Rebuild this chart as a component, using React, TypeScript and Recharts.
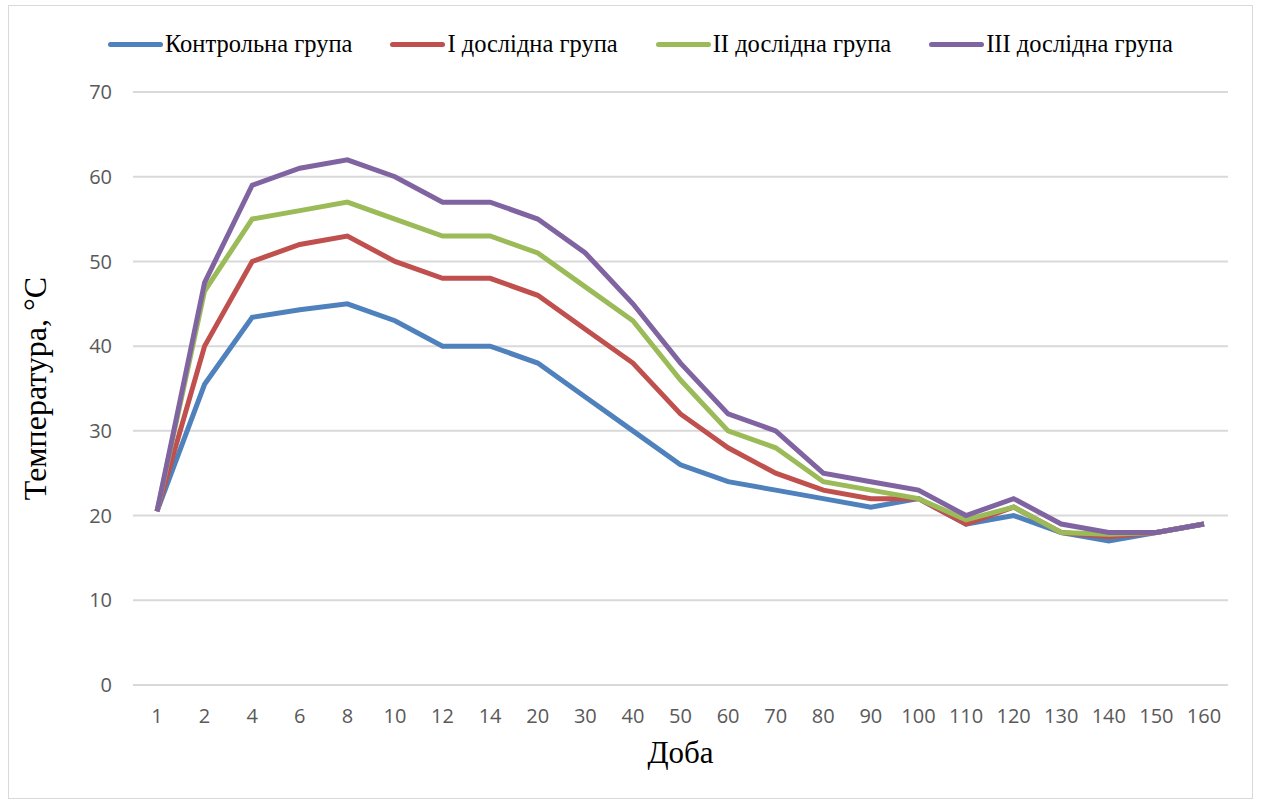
import React from "react";
import { LineChart, Line, XAxis, YAxis, CartesianGrid, Legend } from "recharts";

// Days of observation (categories)
const days = ["1", "2", "4", "6", "8", "10", "12", "14", "20", "30", "40", "50", "60", "70", "80", "90", "100", "110", "120", "130", "140", "150", "160"];

// Temperature per group, °C
const controlGroup = [20.5, 35.5, 43.4, 44.3, 45, 43, 40, 40, 38, 34, 30, 26, 24, 23, 22, 21, 22, 19, 20, 18, 17, 18, 19];
const group1 = [20.5, 40, 50, 52, 53, 50, 48, 48, 46, 42, 38, 32, 28, 25, 23, 22, 22, 19, 21, 18, 17.5, 18, 19];
const group2 = [20.5, 46.5, 55, 56, 57, 55, 53, 53, 51, 47, 43, 36, 30, 28, 24, 23, 22, 19.5, 21, 18, 17.8, 18, 19];
const group3 = [20.5, 47.5, 59, 61, 62, 60, 57, 57, 55, 51, 45, 38, 32, 30, 25, 24, 23, 20, 22, 19, 18, 18, 19];

const yTicks = [0, 10, 20, 30, 40, 50, 60, 70];

const series = [
    { key: "control", name: "Контрольна група", color: "#4F81BD", values: controlGroup },
    { key: "g1", name: "І дослідна група", color: "#C0504D", values: group1 },
    { key: "g2", name: "ІІ дослідна група", color: "#9BBB59", values: group2 },
    { key: "g3", name: "ІІІ дослідна група", color: "#8064A2", values: group3 },
];

const chartData = days.map((day, i) => {
    const row: { [key: string]: string | number } = { day };
    series.forEach((s) => {
        row[s.key] = s.values[i];
    });
    return row;
});

const serif = "'Liberation Serif', 'Times New Roman', serif";
const tickFont = "'Open Sans', 'Liberation Sans', sans-serif";

// Legend in the Excel style: thick line + label
const LegendContent = () => (
    <div style={{ display: "flex", justifyContent: "flex-start", paddingLeft: 108, fontFamily: serif, fontSize: 24.5, color: "#000", lineHeight: "26px" }}>
        {series.map((s) => (
            <div key={s.key} style={{ display: "flex", alignItems: "center", marginRight: 38 }}>
                <span style={{ display: "inline-block", width: 55, height: 5, borderRadius: 3, background: s.color, marginRight: 2 }} />
                <span>{s.name}</span>
            </div>
        ))}
    </div>
);

const App: React.FC = () => {
    return (
        <div style={{ position: "absolute", left: 0, top: 0, width: 1261, height: 802, background: "#fff" }}>
            <div style={{ position: "absolute", left: 8, top: 5, width: 1245, height: 794, border: "1px solid #d9d9d9", boxSizing: "border-box" }} />
            <LineChart
                width={1261}
                height={802}
                data={chartData}
                margin={{ top: 66, right: 33, bottom: 57, left: 73 }}
                style={{ position: "absolute", left: 0, top: 0 }}
            >
                <CartesianGrid vertical={false} stroke="#d9d9d9" strokeWidth={2} />
                <XAxis
                    dataKey="day"
                    height={60}
                    padding={{ left: 24, right: 24 }}
                    axisLine={{ stroke: "#d9d9d9", strokeWidth: 2 }}
                    tickLine={false}
                    tick={{ fill: "#595959", fontSize: 20, fontFamily: tickFont }}
                    tickMargin={18}
                    interval={0}
                    label={{ value: "Доба", position: "insideBottom", offset: -18, fill: "#000", fontSize: 31, fontFamily: serif }}
                />
                <YAxis
                    width={60}
                    domain={[0, 70]}
                    ticks={yTicks}
                    axisLine={false}
                    tickLine={false}
                    tick={{ fill: "#595959", fontSize: 20, fontFamily: tickFont }}
                    tickMargin={15}
                    label={{ value: "Температура, °С", angle: -90, position: "left", offset: 38, fill: "#000", fontSize: 32, fontFamily: serif, style: { textAnchor: "middle" } }}
                />
                <Legend verticalAlign="top" content={<LegendContent />} wrapperStyle={{ top: 31, left: 0, width: 1261 }} />
                {series.map((s) => (
                    <Line
                        key={s.key}
                        type="linear"
                        dataKey={s.key}
                        name={s.name}
                        stroke={s.color}
                        strokeWidth={5}
                        dot={false}
                        activeDot={false}
                        isAnimationActive={false}
                    />
                ))}
            </LineChart>
        </div>
    );
};

export default App;
